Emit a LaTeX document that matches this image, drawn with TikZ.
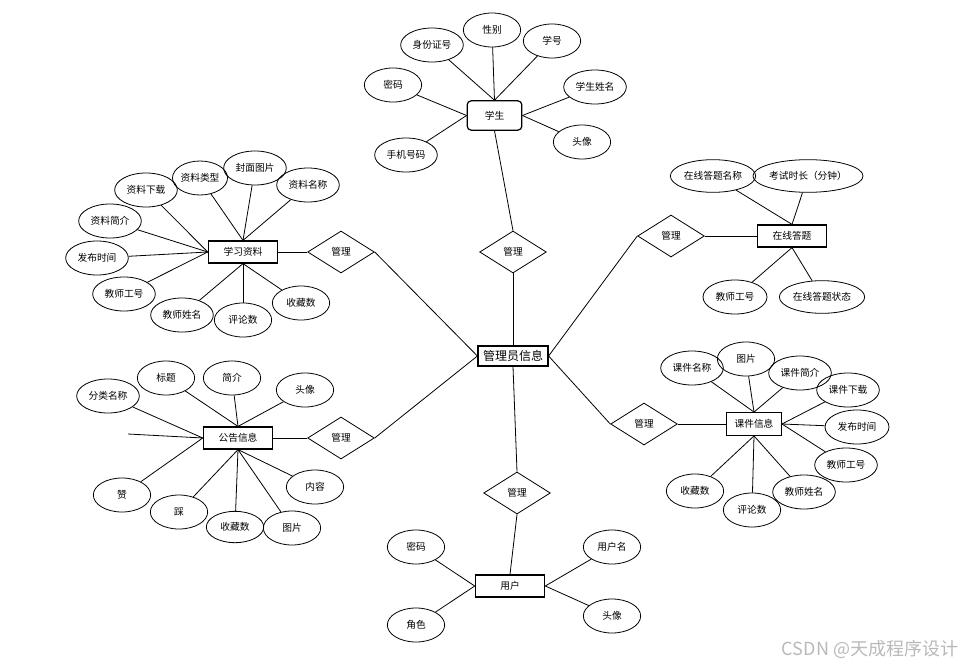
\documentclass[tikz,border=0pt]{standalone}
\usepackage{fontspec}
\setmainfont{Noto Sans CJK SC}
\usetikzlibrary{shapes.geometric,shadows}
\begin{document}
\begin{tikzpicture}[x=0.75pt,y=-0.75pt,
  attr/.style={ellipse,draw,line width=0.6pt,inner sep=0pt,minimum width=43pt,minimum height=25.5pt,font=\fontsize{7.3}{9}\selectfont},
  attrw/.style={attr,minimum width=47pt},
  attrx/.style={attr,minimum width=64pt,minimum height=24.5pt},
  ent/.style={rectangle,draw,line width=0.9pt,inner sep=0pt,minimum width=52pt,minimum height=16.5pt,font=\fontsize{7.3}{9}\selectfont},
  rel/.style={diamond,draw,line width=0.6pt,inner sep=0pt,minimum width=50pt,minimum height=31.5pt,font=\fontsize{7.3}{9}\selectfont},
  conn/.style={line width=0.6pt}]
\useasboundingbox (0,0) rectangle (966,667);

% centre
\node[ent,minimum width=52.5pt,minimum height=15pt,font=\fontsize{9}{11}\selectfont,fill=white,
  drop shadow={shadow xshift=0.8pt,shadow yshift=-0.8pt,fill=blue!40,opacity=0.5}] (c) at (513,356) {管理员信息};

% student
\node[ent,rounded corners=3pt,minimum width=41pt,minimum height=22pt] (stu) at (494.5,115.5) {学生};
\node[attrw] (s1) at (432,45) {身份证号};
\node[attr] (s2) at (492,30) {性别};
\node[attr] (s3) at (552,41) {学号};
\node[attr] (s4) at (393,85) {密码};
\node[attrw] (s5) at (595,87) {学生姓名};
\node[attr] (s6) at (582,142) {头像};
\node[attrw] (s7) at (406,155) {手机号码};
\node[rel] (r1) at (513,252) {管理};
\draw[conn] (stu.north) -- (s1);
\draw[conn] (stu.north) -- (s2);
\draw[conn] (stu.north) -- (s3);
\draw[conn] (stu.west) -- (s4);
\draw[conn] (stu.west) -- (s7);
\draw[conn] (stu.east) -- (s5);
\draw[conn] (stu.east) -- (s6);
\draw[conn] (stu.south) -- (r1.north);
\draw[conn] (r1.south) -- (c.north);

% user
\node[rel] (r2) at (517,493) {管理};
\node[ent] (usr) at (510,586) {用户};
\node[attr] (u1) at (416,547) {密码};
\node[attr] (u2) at (416,625) {角色};
\node[attr] (u3) at (612,547) {用户名};
\node[attr] (u4) at (612,616) {头像};
\draw[conn] (c.south) -- (r2.north);
\draw[conn] (r2.south) -- (usr.north);
\draw[conn] (usr.west) -- (u1);
\draw[conn] (usr.west) -- (u2);
\draw[conn] (usr.east) -- (u3);
\draw[conn] (usr.east) -- (u4);

% study material
\node[ent] (xx) at (243,252) {学习资料};
\node[rel] (r3) at (341,252) {管理};
\node[attrw] (x1) at (146,190) {资料下载};
\node[attr,minimum width=41pt] (x2) at (200,178) {资料类型};
\node[attrw] (x3) at (255,168) {封面图片};
\node[attrw] (x4) at (308,185) {资料名称};
\node[attrw] (x5) at (110,221) {资料简介};
\node[attrw] (x6) at (97,258) {发布时间};
\node[attrw] (x7) at (124,294) {教师工号};
\node[attrw] (x8) at (182,315) {教师姓名};
\node[attr] (x9) at (243,320) {评论数};
\node[attr] (x10) at (301,303) {收藏数};
\draw[conn] (xx.east) -- (r3.west);
\draw[conn] (r3.east) -- (c.west);
\draw[conn] (xx.west) -- (x1);
\draw[conn] (xx.north) -- (x2);
\draw[conn] (xx.north) -- (x3);
\draw[conn] (xx.north) -- (x4);
\draw[conn] (xx.west) -- (x5);
\draw[conn] (xx.west) -- (x6);
\draw[conn] (xx.west) -- (x7);
\draw[conn] (xx.south) -- (x8);
\draw[conn] (xx.south) -- (x9);
\draw[conn] (xx.south) -- (x10);

% notice
\node[ent] (gg) at (238,438) {公告信息};
\node[rel] (r4) at (341,438) {管理};
\node[attrw] (g1) at (108,396) {分类名称};
\node[attr] (g2) at (166,378) {标题};
\node[attr] (g3) at (232,378) {简介};
\node[attr] (g4) at (305,390) {头像};
\node[attr] (g5) at (122,495) {赞};
\node[attr] (g6) at (179,512) {踩};
\node[attr,minimum height=23.5pt] (g7) at (235,527) {收藏数};
\node[attr] (g8) at (292,528) {图片};
\node[attr] (g9) at (315,487) {内容};
\coordinate (gfree) at (128,434);
\draw[conn] (gg.east) -- (r4.west);
\draw[conn] (r4.east) -- (c.west);
\draw[conn] (gfree) -- (gg.west);
\draw[conn] (gg.west) -- (g1);
\draw[conn] (gg.north) -- (g2);
\draw[conn] (gg.north) -- (g3);
\draw[conn] (gg.north) -- (g4);
\draw[conn] (gg.west) -- (g5);
\draw[conn] (gg.south) -- (g6);
\draw[conn] (gg.south) -- (g7);
\draw[conn] (gg.south) -- (g8);
\draw[conn] (gg.south) -- (g9);

% online quiz
\node[ent] (zx) at (792,236) {在线答题};
\node[rel] (r5) at (671,236) {管理};
\node[attrx] (z1) at (713,176) {在线答题名称};
\node[attrx,minimum width=75pt] (z2) at (808,176) {考试时长（分钟）};
\node[attrw,minimum width=48pt] (z3) at (735,297) {教师工号};
\node[attrx] (z4) at (822,297) {在线答题状态};
\draw[conn] (c.east) -- (r5.west);
\draw[conn] (r5.east) -- (zx.west);
\draw[conn] (zx.north) -- (z1);
\draw[conn] (zx.north) -- (z2);
\draw[conn] (zx.south) -- (z3);
\draw[conn] (zx.south) -- (z4);

% courseware
\node[ent,minimum width=41pt,minimum height=17pt] (kj) at (754,424) {课件信息};
\node[rel] (r6) at (644,424) {管理};
\node[attrw] (k1) at (692,368) {课件名称};
\node[attr] (k2) at (746,359) {图片};
\node[attrw] (k3) at (800,373) {课件简介};
\node[attrw] (k4) at (848,390) {课件下载};
\node[attrw,minimum width=48pt] (k5) at (857,427) {发布时间};
\node[attrw] (k6) at (846,465) {教师工号};
\node[attrw] (k7) at (804,492) {教师姓名};
\node[attr] (k8) at (752,510) {评论数};
\node[attr] (k9) at (695,491) {收藏数};
\draw[conn] (c.east) -- (r6.west);
\draw[conn] (r6.east) -- (kj.west);
\draw[conn] (kj.north) -- (k1);
\draw[conn] (kj.north) -- (k2);
\draw[conn] (kj.north) -- (k3);
\draw[conn] (kj.east) -- (k4);
\draw[conn] (kj.east) -- (k5);
\draw[conn] (kj.east) -- (k6);
\draw[conn] (kj.south) -- (k7);
\draw[conn] (kj.south) -- (k8);
\draw[conn] (kj.south) -- (k9);

% watermark
\node[text=gray!55,font=\fontsize{13.5}{15}\selectfont] (wm) at (870,649) {CSDN @天成程序设计};
\end{tikzpicture}
\end{document}
